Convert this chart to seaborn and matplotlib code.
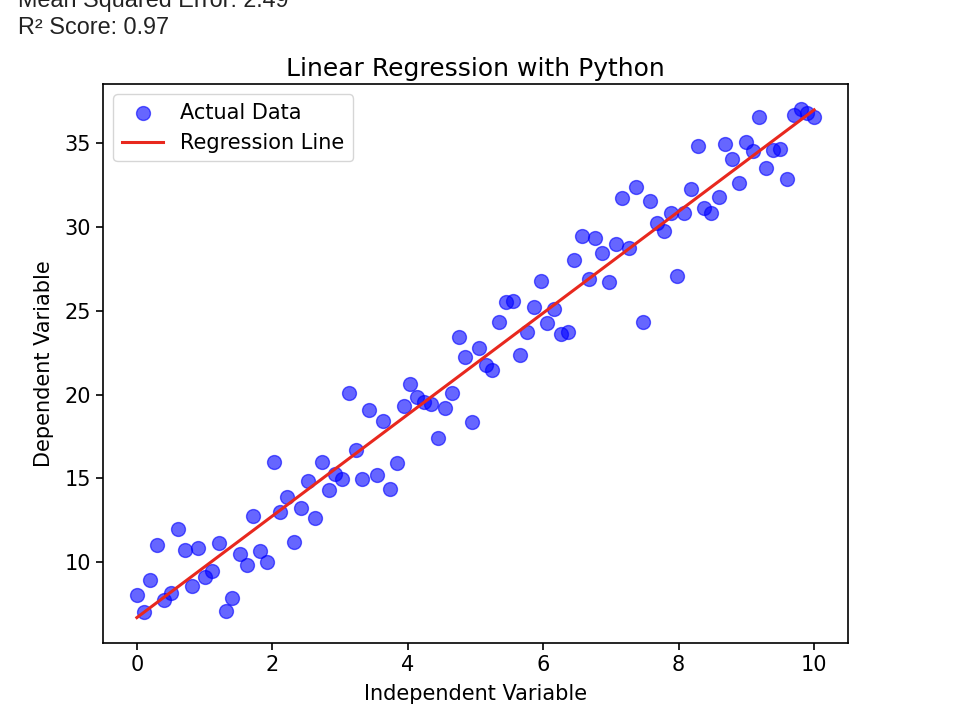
import numpy as np
import pandas as pd
import matplotlib
matplotlib.use("Agg")
import matplotlib.pyplot as plt
import seaborn as sns

# Werte
x_values = [0.00, 0.10, 0.20, 0.30, 0.40, 0.51, 0.61, 0.71, 0.81, 0.91,
            1.01, 1.11, 1.21, 1.31, 1.41, 1.52, 1.62, 1.72, 1.82, 1.92,
            2.02, 2.12, 2.22, 2.32, 2.42, 2.53, 2.63, 2.73, 2.83, 2.93,
            3.03, 3.13, 3.23, 3.33, 3.43, 3.54, 3.64, 3.74, 3.84, 3.94,
            4.04, 4.14, 4.24, 4.34, 4.44, 4.55, 4.65, 4.75, 4.85, 4.95,
            5.05, 5.15, 5.25, 5.35, 5.45, 5.56, 5.66, 5.76, 5.86, 5.96,
            6.06, 6.16, 6.26, 6.36, 6.46, 6.57, 6.67, 6.77, 6.87, 6.97,
            7.07, 7.17, 7.27, 7.37, 7.47, 7.58, 7.68, 7.78, 7.88, 7.98,
            8.08, 8.18, 8.28, 8.38, 8.48, 8.59, 8.69, 8.79, 8.89, 8.99,
            9.09, 9.19, 9.29, 9.39, 9.49, 9.60, 9.70, 9.80, 9.90, 10.00]

y_values = [8.02, 7.06, 8.92, 11.00, 7.75, 8.14, 11.98, 10.72, 8.60, 10.84,
            9.10, 9.46, 11.14, 7.12, 7.84, 10.48, 9.82, 12.76, 10.66, 10.00,
            16.00, 13.00, 13.90, 11.20, 13.24, 14.87, 12.64, 15.95, 14.33, 15.29,
            14.99, 20.10, 16.67, 14.99, 19.07, 15.23, 18.41, 14.39, 15.89, 19.31,
            20.64, 19.84, 19.54, 19.43, 17.39, 19.19, 20.10, 23.42, 22.24, 18.37,
            22.78, 21.74, 21.44, 24.32, 25.50, 25.58, 22.34, 23.70, 25.19, 26.79,
            24.24, 25.10, 23.60, 23.70, 28.03, 29.47, 26.89, 29.35, 28.45, 26.71,
            28.99, 31.70, 28.75, 32.36, 24.30, 31.52, 30.25, 29.77, 30.85, 27.07,
            30.80, 32.25, 34.80, 31.15, 30.85, 31.80, 34.96, 34.06, 32.60, 35.06,
            34.52, 36.56, 33.52, 34.60, 34.66, 32.85, 36.66, 37.00, 36.80, 36.56]

mse_text = "Mean Squared Error: 2.49"
r2_text = "R\u00b2 Score: 0.97"


def main():
    df = pd.DataFrame({"x": x_values, "y": y_values})

    # Regressionsgerade aus den Daten
    slope, intercept = np.polyfit(df["x"], df["y"], 1)
    df["y_pred"] = slope * df["x"] + intercept

    plt.rcParams["font.family"] = ["DejaVu Sans"]
    plt.rcParams["axes.linewidth"] = 1.2
    plt.rcParams["xtick.major.width"] = 1.2
    plt.rcParams["ytick.major.width"] = 1.2
    plt.rcParams["xtick.major.size"] = 5.2
    plt.rcParams["ytick.major.size"] = 5.2

    fig = plt.figure(figsize=(9.74, 7.24), dpi=100)
    ax = fig.add_axes([103 / 974, 1 - 643 / 724, 745 / 974, 559 / 724])

    sns.scatterplot(data=df, x="x", y="y", ax=ax, color="blue", alpha=0.6,
                    s=100, edgecolor="blue", linewidth=1.0, label="Actual Data")
    sns.lineplot(data=df, x="x", y="y_pred", ax=ax, color="#e8281e",
                 linewidth=2.2, label="Regression Line")

    ax.set_title("Linear Regression with Python", fontsize=18, pad=6)
    ax.set_xlabel("Independent Variable", fontsize=15, labelpad=6.5)
    ax.set_ylabel("Dependent Variable", fontsize=15, labelpad=7.5)
    ax.tick_params(labelsize=15)
    ax.set_xticks([0, 2, 4, 6, 8, 10])
    ax.set_yticks([10, 15, 20, 25, 30, 35])
    ax.legend(loc="upper left", fontsize=15)

    # Textausgabe oberhalb der Grafik
    fig.text(18 / 974, 1 - 7 / 724, mse_text, fontsize=16.8, va="baseline",
             family=["Liberation Sans", "DejaVu Sans"], color="#222222")
    fig.text(18 / 974, 1 - 34 / 724, r2_text, fontsize=16.8, va="baseline",
             family=["Liberation Sans", "DejaVu Sans"], color="#222222")

    fig.savefig("out.png", dpi=100)
    plt.close(fig)


if __name__ == "__main__":
    main()
